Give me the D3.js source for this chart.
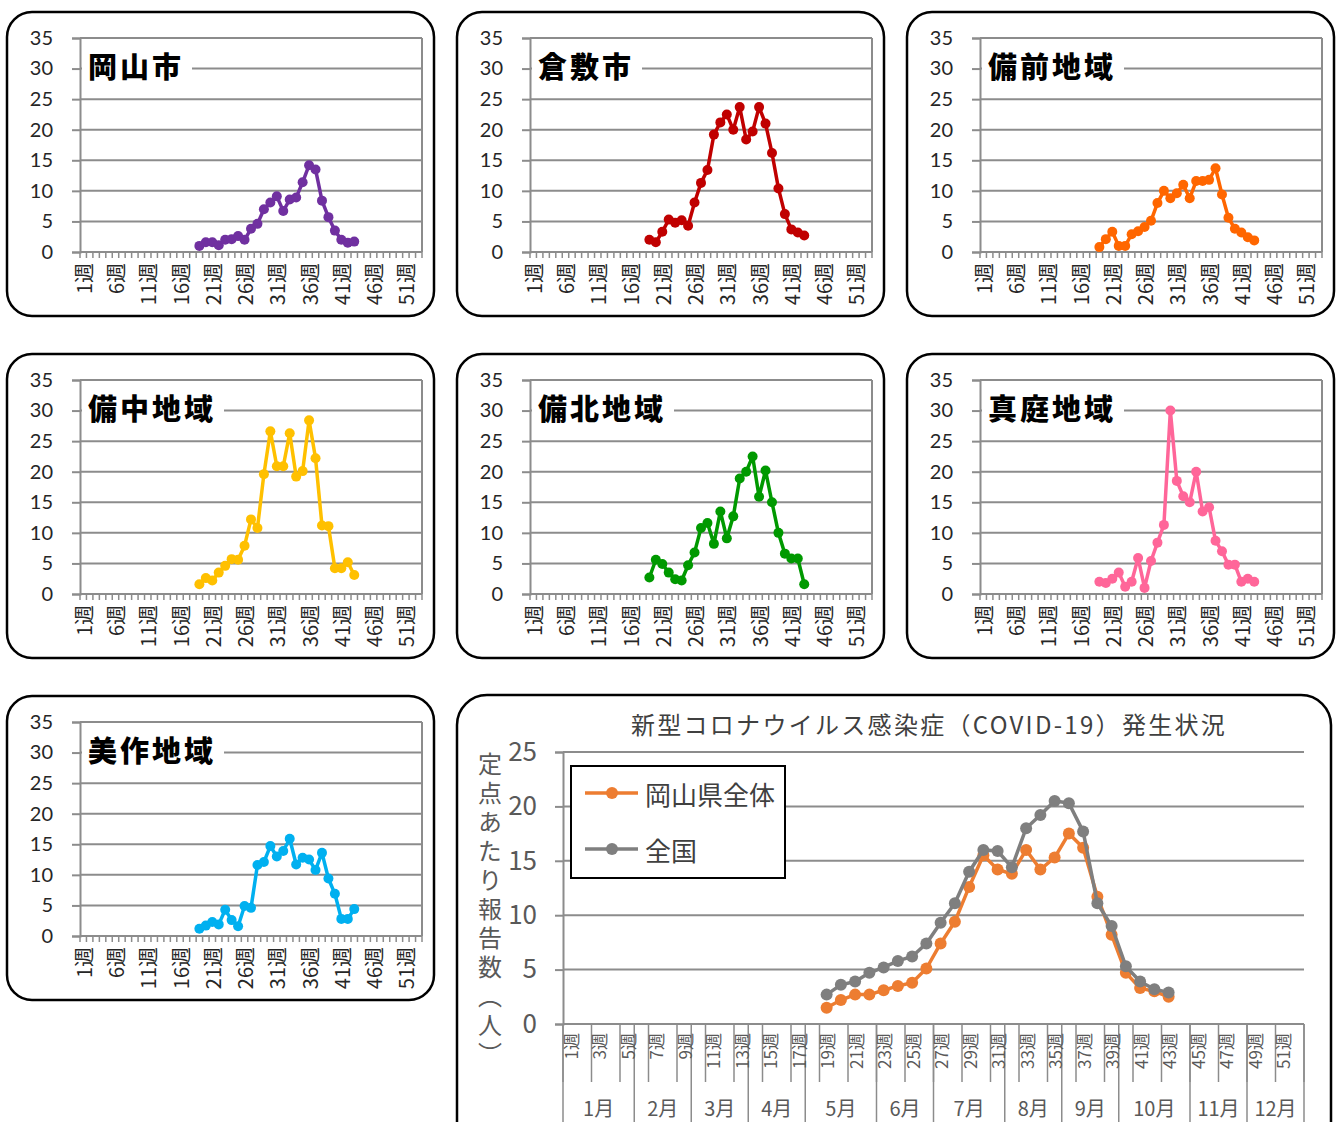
<!DOCTYPE html>
<html lang="ja">
<head>
<meta charset="UTF-8">
<title>定点あたり報告数</title>
<script src="https://d3js.org/d3.v7.min.js"></script>
<style>
  body { margin: 0; background: #fff; }
  svg text { font-family: "Noto Sans CJK JP", "Noto Sans", sans-serif; }
</style>
</head>
<body>
<div id="chart"></div>
<script>
// データは19週〜43週
var dataWeeks = d3.range(19, 44);

var okayamaCity = [1.0, 1.6, 1.6, 1.1, 2.0, 2.1, 2.6, 2.0, 3.8, 4.6, 7.0, 8.1, 9.1, 6.7, 8.6, 8.9, 11.4, 14.2, 13.5, 8.4, 5.7, 3.5, 2.0, 1.5, 1.7];
var kurashiki   = [2.0, 1.6, 3.3, 5.3, 4.8, 5.2, 4.3, 8.1, 11.3, 13.4, 19.2, 21.2, 22.5, 20.0, 23.7, 18.4, 19.7, 23.7, 21.0, 16.2, 10.4, 6.2, 3.7, 3.2, 2.7];
var bizen       = [0.8, 2.1, 3.3, 1.0, 1.0, 2.9, 3.4, 4.1, 5.1, 8.0, 10.0, 8.8, 9.6, 11.0, 8.8, 11.6, 11.6, 11.8, 13.7, 9.4, 5.6, 3.8, 3.2, 2.4, 1.9];
var bicchu      = [1.6, 2.6, 2.2, 3.5, 4.6, 5.7, 5.6, 7.9, 12.2, 10.8, 19.6, 26.6, 20.9, 20.9, 26.3, 19.2, 20.1, 28.4, 22.2, 11.2, 11.1, 4.2, 4.2, 5.2, 3.1];
var bihoku      = [2.7, 5.6, 4.9, 3.5, 2.4, 2.2, 4.7, 6.8, 10.8, 11.6, 8.2, 13.5, 9.1, 12.7, 18.9, 20.0, 22.5, 15.9, 20.2, 15.0, 10.0, 6.6, 5.8, 5.8, 1.6];
var maniwa      = [2.0, 1.8, 2.5, 3.5, 1.2, 2.0, 5.9, 1.0, 5.4, 8.4, 11.3, 30.0, 18.5, 16.0, 15.0, 20.0, 13.5, 14.2, 8.7, 7.0, 4.8, 4.8, 2.0, 2.5, 2.0];
var mimasaka    = [1.2, 1.7, 2.3, 1.9, 4.3, 2.6, 1.6, 4.9, 4.6, 11.6, 12.1, 14.7, 13.0, 13.9, 15.9, 11.7, 12.8, 12.5, 10.8, 13.6, 9.4, 6.9, 2.8, 2.8, 4.4];

var prefTotal   = [1.5, 2.2, 2.7, 2.7, 3.1, 3.5, 3.8, 5.1, 7.4, 9.4, 12.6, 15.5, 14.2, 13.8, 16.0, 14.2, 15.3, 17.5, 16.2, 11.7, 8.2, 4.7, 3.3, 3.0, 2.5];
var national    = [2.7, 3.6, 3.9, 4.7, 5.2, 5.8, 6.2, 7.4, 9.3, 11.1, 14.0, 16.0, 15.9, 14.4, 18.0, 19.2, 20.5, 20.3, 17.7, 11.1, 9.0, 5.3, 3.9, 3.2, 2.9];

var smallWeeks = d3.range(1, 54);          // 小グラフ: 1〜53週
var smallLabelWeeks = d3.range(1, 52, 5);  // 1,6,...,51
var smallYTicks = [0, 5, 10, 15, 20, 25, 30, 35];

var bigWeeks = d3.range(1, 53);            // 全体グラフ: 1〜52週
var bigLabelWeeks = d3.range(1, 52, 2);    // 1,3,...,51
var bigYTicks = [0, 5, 10, 15, 20, 25];
var months = ["1月", "2月", "3月", "4月", "5月", "6月", "7月", "8月", "9月", "10月", "11月", "12月"];
var monthWeekCounts = [5, 4, 4, 4, 5, 4, 5, 4, 4, 5, 4, 4];

var panels = [
  { title: "岡山市",   values: okayamaCity, color: "#7030A0", col: 0, row: 0 },
  { title: "倉敷市",   values: kurashiki,   color: "#C00000", col: 1, row: 0 },
  { title: "備前地域", values: bizen,       color: "#FF6600", col: 2, row: 0 },
  { title: "備中地域", values: bicchu,      color: "#FFC000", col: 0, row: 1 },
  { title: "備北地域", values: bihoku,      color: "#009900", col: 1, row: 1 },
  { title: "真庭地域", values: maniwa,      color: "#FF6699", col: 2, row: 1 },
  { title: "美作地域", values: mimasaka,    color: "#00B0F0", col: 0, row: 2 }
];

var W = 1341, H = 1122;
var svg = d3.select("#chart").append("svg")
  .attr("width", W).attr("height", H);

var colX = [7, 457, 907];
var rowY = [12, 354, 696];
var gridColor = "#8c8c8c";

panels.forEach(function(p) {
  var px = colX[p.col], py = rowY[p.row];
  var g = svg.append("g");

  g.append("rect")
    .attr("x", px).attr("y", py)
    .attr("width", 427).attr("height", 304)
    .attr("rx", 25).attr("ry", 25)
    .attr("fill", "#fff").attr("stroke", "#000").attr("stroke-width", 2.5);

  var left = px + 73, right = px + 415, top = py + 26, bottom = py + 240;

  var x = d3.scaleBand().domain(smallWeeks).range([left, right]);
  var y = d3.scaleLinear().domain([0, 35]).range([bottom, top]);

  // グリッド線
  g.selectAll(".grid").data(smallYTicks).enter().append("line")
    .attr("x1", left).attr("x2", right)
    .attr("y1", function(d) { return y(d); })
    .attr("y2", function(d) { return y(d); })
    .attr("stroke", gridColor).attr("stroke-width", 2);

  g.append("line")
    .attr("x1", right).attr("x2", right).attr("y1", top).attr("y2", bottom)
    .attr("stroke", gridColor).attr("stroke-width", 2);

  var yAxis = g.append("g")
    .attr("transform", "translate(" + left + ",0)")
    .call(d3.axisLeft(y).tickValues(smallYTicks).tickSize(8).tickPadding(19));
  yAxis.select(".domain").attr("stroke", gridColor).attr("stroke-width", 2);
  yAxis.selectAll(".tick line").attr("stroke", gridColor).attr("stroke-width", 2);
  yAxis.selectAll(".tick text")
    .attr("fill", "#262626")
    .style("font-family", "Lato, 'Open Sans', sans-serif")
    .style("font-size", "20px");

  // x軸 (週の区切り目盛り)
  g.append("line")
    .attr("x1", left).attr("x2", right).attr("y1", bottom).attr("y2", bottom)
    .attr("stroke", gridColor).attr("stroke-width", 2);
  g.selectAll(".xtick").data(d3.range(0, smallWeeks.length + 1)).enter().append("line")
    .attr("x1", function(i) { return left + i * x.step(); })
    .attr("x2", function(i) { return left + i * x.step(); })
    .attr("y1", bottom).attr("y2", bottom + 6)
    .attr("stroke", gridColor).attr("stroke-width", 1.5);

  g.selectAll(".xlab").data(smallLabelWeeks).enter().append("text")
    .attr("transform", function(d) {
      return "translate(" + (x(d) + x.bandwidth() / 2) + "," + (bottom + 11) + ") rotate(-90)";
    })
    .attr("text-anchor", "end")
    .attr("dominant-baseline", "central")
    .attr("fill", "#262626")
    .style("font-size", "20px")
    .text(function(d) { return d + "週"; });

  // タイトル
  var tg = g.append("g");
  var bg = tg.append("rect").attr("fill", "#fff");
  var tt = tg.append("text")
    .attr("x", left + 8).attr("y", y(30) - 4)
    .attr("dominant-baseline", "central")
    .attr("font-weight", 900)
    .attr("fill", "#000")
    .style("font-size", "29px")
    .style("letter-spacing", "3px")
    .text(p.title);
  var tw = tt.node().getComputedTextLength();
  bg.attr("x", left + 2).attr("y", y(30) - 20).attr("width", tw + 14).attr("height", 34);

  // 折れ線
  var line = d3.line()
    .x(function(d, i) { return x(dataWeeks[i]) + x.bandwidth() / 2; })
    .y(function(d) { return y(d); });

  g.append("path").datum(p.values)
    .attr("d", line)
    .attr("fill", "none").attr("stroke", p.color).attr("stroke-width", 3.5)
    .attr("stroke-linejoin", "round");

  g.selectAll(".pt").data(p.values).enter().append("circle")
    .attr("cx", function(d, i) { return x(dataWeeks[i]) + x.bandwidth() / 2; })
    .attr("cy", function(d) { return y(d); })
    .attr("r", 5)
    .attr("fill", p.color);
});

// ===== 全体グラフ =====
var big = svg.append("g");
big.append("rect")
  .attr("x", 457).attr("y", 695).attr("width", 874).attr("height", 470)
  .attr("rx", 30).attr("ry", 30)
  .attr("fill", "#fff").attr("stroke", "#000").attr("stroke-width", 2.5);

var bLeft = 563, bRight = 1304, bTop = 752, bBottom = 1024;
var bx = d3.scaleBand().domain(bigWeeks).range([bLeft, bRight]);
var by = d3.scaleLinear().domain([0, 25]).range([bBottom, bTop]);

big.append("text")
  .attr("x", 929).attr("y", 723)
  .attr("text-anchor", "middle").attr("dominant-baseline", "central")
  .attr("fill", "#404040")
  .style("font-size", "24px")
  .style("letter-spacing", "2.3px")
  .text("新型コロナウイルス感染症（COVID-19）発生状況");

big.append("text")
  .attr("x", 490).attr("y", 752)
  .attr("fill", "#595959")
  .style("writing-mode", "vertical-rl")
  .style("font-size", "24px")
  .style("letter-spacing", "5px")
  .text("定点あたり報告数（人）");

big.selectAll(".bgrid").data(bigYTicks).enter().append("line")
  .attr("x1", bLeft).attr("x2", bRight)
  .attr("y1", function(d) { return by(d); })
  .attr("y2", function(d) { return by(d); })
  .attr("stroke", gridColor).attr("stroke-width", 2);

var byAxis = big.append("g")
  .attr("transform", "translate(" + bLeft + ",0)")
  .call(d3.axisLeft(by).tickValues(bigYTicks).tickSize(8).tickPadding(18));
byAxis.select(".domain").attr("stroke", gridColor).attr("stroke-width", 2);
byAxis.selectAll(".tick line").attr("stroke", gridColor).attr("stroke-width", 2);
byAxis.selectAll(".tick text")
  .attr("fill", "#595959")
  .style("font-size", "26px");

// 週ラベルと区切り線
var monthBounds = [0];
monthWeekCounts.forEach(function(c, i) { monthBounds.push(monthBounds[i] + c); });

big.selectAll(".wsep").data(d3.range(0, bigWeeks.length + 1, 2)).enter().append("line")
  .attr("x1", function(i) { return bLeft + i * bx.step(); })
  .attr("x2", function(i) { return bLeft + i * bx.step(); })
  .attr("y1", bBottom).attr("y2", 1082)
  .attr("stroke", gridColor).attr("stroke-width", 1.5);

big.selectAll(".msep").data(monthBounds).enter().append("line")
  .attr("x1", function(i) { return bLeft + i * bx.step(); })
  .attr("x2", function(i) { return bLeft + i * bx.step(); })
  .attr("y1", bBottom).attr("y2", H)
  .attr("stroke", gridColor).attr("stroke-width", 1.5);

big.selectAll(".wlab").data(bigLabelWeeks).enter().append("text")
  .attr("transform", function(d) {
    return "translate(" + (bx(d) + bx.bandwidth() / 2) + "," + (bBottom + 9) + ") rotate(-90)";
  })
  .attr("text-anchor", "end")
  .attr("dominant-baseline", "central")
  .attr("fill", "#595959")
  .style("font-size", "17px")
  .text(function(d) { return d + "週"; });

big.selectAll(".mlab").data(months).enter().append("text")
  .attr("x", function(d, i) { return bLeft + (monthBounds[i] + monthBounds[i + 1]) / 2 * bx.step(); })
  .attr("y", 1107)
  .attr("text-anchor", "middle").attr("dominant-baseline", "central")
  .attr("fill", "#595959")
  .style("font-size", "20px")
  .text(function(d) { return d; });

var bigSeries = [
  { name: "岡山県全体", values: prefTotal, color: "#ED7D31" },
  { name: "全国", values: national, color: "#7F7F7F" }
];

var bline = d3.line()
  .x(function(d, i) { return bx(dataWeeks[i]) + bx.bandwidth() / 2; })
  .y(function(d) { return by(d); });

bigSeries.forEach(function(s) {
  big.append("path").datum(s.values)
    .attr("d", bline)
    .attr("fill", "none").attr("stroke", s.color).attr("stroke-width", 3.5);
  big.selectAll(null).data(s.values).enter().append("circle")
    .attr("cx", function(d, i) { return bx(dataWeeks[i]) + bx.bandwidth() / 2; })
    .attr("cy", function(d) { return by(d); })
    .attr("r", 6)
    .attr("fill", s.color);
});

// 凡例
var lg = big.append("g");
lg.append("rect")
  .attr("x", 571).attr("y", 766).attr("width", 214).attr("height", 112)
  .attr("fill", "#fff").attr("stroke", "#000").attr("stroke-width", 2);
bigSeries.forEach(function(s, i) {
  var ly = 793 + i * 56;
  lg.append("line").attr("x1", 585).attr("x2", 638).attr("y1", ly).attr("y2", ly)
    .attr("stroke", s.color).attr("stroke-width", 3.5);
  lg.append("circle").attr("cx", 612).attr("cy", ly).attr("r", 6).attr("fill", s.color);
  lg.append("text").attr("x", 645).attr("y", ly)
    .attr("dominant-baseline", "central")
    .attr("fill", "#404040")
    .style("font-size", "26px")
    .text(s.name);
});
</script>
</body>
</html>
